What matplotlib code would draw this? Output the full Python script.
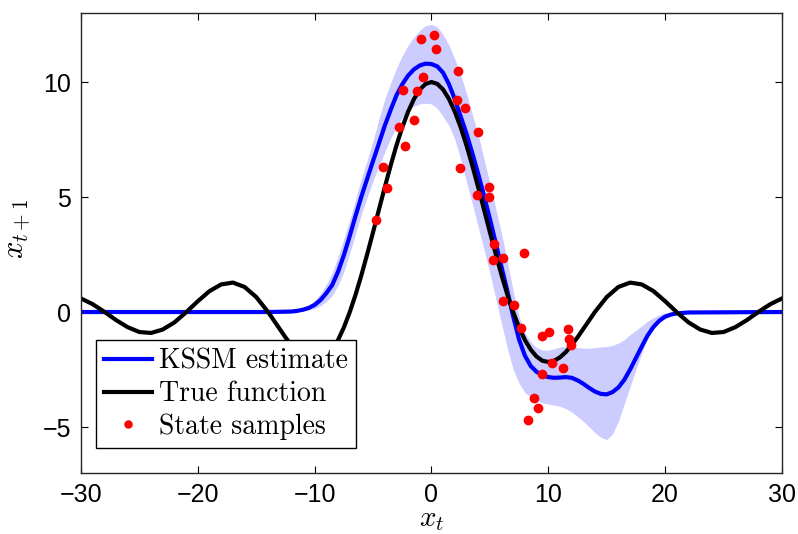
import numpy as np
import matplotlib.pyplot as plt

plt.rcParams['mathtext.fontset'] = 'cm'

# true function
true_x = [-30, -29, -28, -27, -26, -25, -24, -23, -22, -21, -20, -19, -18, -17, -16, -15, -14,
          -13.5, -13, -12.5, -12, -11.5, -11, -10.5, -10, -9.5, -9, -8.5, -8, -7.5, -7,
          -6.5, -6, -5.5, -5, -4.5, -4, -3.5, -3, -2.5, -2, -1.5, -1, -0.5, 0,
          0.5, 1, 1.5, 2, 2.5, 3, 3.5, 4, 4.5, 5, 5.5, 6, 6.5, 7,
          7.5, 8, 8.5, 9, 9.5, 10, 10.5, 11, 11.5, 12, 12.5, 13, 13.5,
          14, 15, 16, 17, 18, 19, 20, 21, 22, 23, 24, 25, 26, 27, 28, 29, 30]
true_y = [0.59, 0.34, 0.01, -0.35, -0.66, -0.87, -0.91, -0.76, -0.45, -0.01, 0.47, 0.91, 1.20, 1.28, 1.09, 0.65, 0.01,
          -0.36, -0.73, -1.10, -1.44, -1.74, -1.97, -2.12, -2.17, -2.12, -1.94, -1.64, -1.22, -0.67, -0.01,
          0.75, 1.60, 2.52, 3.47, 4.45, 5.42, 6.36, 7.24, 8.03, 8.71, 9.26, 9.67, 9.92, 10.0,
          9.92, 9.67, 9.26, 8.71, 8.03, 7.24, 6.36, 5.42, 4.45, 3.47, 2.52, 1.60, 0.75, -0.01,
          -0.67, -1.22, -1.64, -1.94, -2.12, -2.17, -2.12, -1.97, -1.74, -1.44, -1.10, -0.73, -0.36,
          0.01, 0.65, 1.09, 1.28, 1.20, 0.91, 0.47, -0.01, -0.45, -0.76, -0.91, -0.87, -0.66, -0.35, 0.01, 0.34, 0.59]

# KSSM estimate with its confidence band
kssm_x = [-30, -14, -13] + list(np.arange(-12, 21.5, 0.5)) + [22, 30]
kssm_mean = [0, 0, 0.01,
             0.02, 0.05, 0.1, 0.18, 0.31, 0.52, 0.82, 1.17, 1.75, 2.47, 3.3, 4.18, 5.02, 5.8,
             6.57, 7.33, 8.1, 8.78, 9.42, 9.9, 10.28, 10.55, 10.72, 10.8, 10.78, 10.68, 10.4, 9.9,
             9.25, 8.5, 7.75, 6.9, 6.0, 5.05, 4.05, 3.0, 1.95, 0.9, -0.2, -1.2, -1.9, -2.35,
             -2.6, -2.75, -2.83, -2.86, -2.85, -2.83, -2.86, -2.97, -3.12, -3.3, -3.46, -3.56, -3.58, -3.48,
             -3.28, -2.95, -2.5, -2.0, -1.5, -1.02, -0.65, -0.38, -0.2, -0.11, -0.06,
             -0.02, 0]
kssm_upper = [0, 0, 0.01,
              0.04, 0.08, 0.16, 0.3, 0.5, 0.8, 1.2, 1.7, 2.4, 3.2, 4.0, 4.9, 5.8, 6.6,
              7.45, 8.4, 9.25, 9.95, 10.6, 11.15, 11.6, 11.95, 12.25, 12.45, 12.5, 12.4, 12.05, 11.6,
              11.0, 10.3, 9.5, 8.6, 7.7, 6.65, 5.6, 4.5, 3.4, 2.2, 0.9, -0.2, -0.9, -1.3,
              -1.55, -1.65, -1.66, -1.6, -1.52, -1.5, -1.52, -1.55, -1.57, -1.57, -1.55, -1.52, -1.5, -1.45,
              -1.35, -1.2, -0.98, -0.8, -0.6, -0.4, -0.25, -0.12, -0.05, -0.02, 0.0,
              0, 0]
kssm_lower = [0, 0, 0,
              0.0, 0.02, 0.04, 0.08, 0.15, 0.27, 0.46, 0.72, 1.15, 1.75, 2.55, 3.4, 4.25, 5.0,
              5.7, 6.35, 6.95, 7.55, 8.05, 8.45, 8.75, 8.95, 9.05, 9.08, 9.05, 8.85, 8.5, 8.1,
              7.5, 6.65, 5.65, 4.7, 3.7, 2.7, 1.7, 0.6, -0.5, -1.6, -2.5, -3.1, -3.5, -3.72,
              -3.85, -3.95, -4.0, -4.05, -4.1, -4.2, -4.35, -4.55, -4.75, -5.0, -5.25, -5.45, -5.55, -5.3,
              -4.75, -4.0, -3.25, -2.5, -1.8, -1.1, -0.6, -0.3, -0.12, -0.05, -0.02,
              0, 0]

# state samples
samp_x = [-0.9, 0.21, 0.39, 2.27, -0.75, -2.47, -1.27, 2.18, 2.87, -1.5, -2.76, 4.0, -2.27,
          -4.18, 2.47, -3.78, 4.9, 3.92, 4.95, -4.75, 5.35, 5.29, 6.15, 7.89, 6.15, 7.09,
          7.69, 9.49, 10.09, 11.71, 11.77, 11.92, 10.32, 11.29, 9.49, 8.75, 9.09, 8.23]
samp_y = [11.88, 12.03, 11.42, 10.46, 10.2, 9.64, 9.61, 9.22, 8.87, 8.33, 8.03, 7.81, 7.23,
          6.29, 6.26, 5.38, 5.43, 5.07, 4.98, 4.0, 2.94, 2.26, 2.35, 2.58, 0.46, 0.29,
          -0.70, -1.06, -0.87, -0.75, -1.17, -1.45, -2.2, -2.43, -2.70, -3.72, -4.16, -4.71]

fig = plt.figure(figsize=(7.98, 5.34), dpi=100)
ax = fig.add_axes([0.1015, 0.1142, 0.8784, 0.8614])

ax.fill_between(kssm_x, kssm_lower, kssm_upper, color='#ccccff', lw=0)
ax.plot(kssm_x, kssm_mean, color='#0000ff', lw=3, label='KSSM estimate')
ax.plot(true_x, true_y, color='black', lw=3, label='True function')
ax.plot(samp_x, samp_y, 'o', color='red', ms=6, mec='red', label='State samples')

ax.set_xlim(-30, 30)
ax.set_ylim(-7, 13)
ax.set_xticks([-30, -20, -10, 0, 10, 20, 30])
ax.set_yticks([-5, 0, 5, 10])
ax.tick_params(direction='in', length=5, width=0.8, top=True, right=True,
               labelsize=18, pad=7)
for lab in ax.get_xticklabels() + ax.get_yticklabels():
    lab.set_fontfamily('Liberation Sans')
for s in ax.spines.values():
    s.set_linewidth(1.0)
    s.set_color('#262626')

ax.set_xlabel(r'$x_t$', fontsize=21, labelpad=-1)
ax.set_ylabel(r'$x_{t+1}$', fontsize=22)
ax.yaxis.set_label_coords(-0.07, 0.53)

leg = ax.legend(loc='lower left', bbox_to_anchor=(0.021, 0.054), borderaxespad=0,
                prop={'family': 'cmr10', 'size': 20}, fancybox=False, framealpha=1,
                edgecolor='black', handlelength=1.73, handletextpad=0.25,
                borderpad=0.3, labelspacing=0.22, markerscale=0.85)
leg.get_frame().set_linewidth(1.0)

fig.savefig('out.png', dpi=100)
